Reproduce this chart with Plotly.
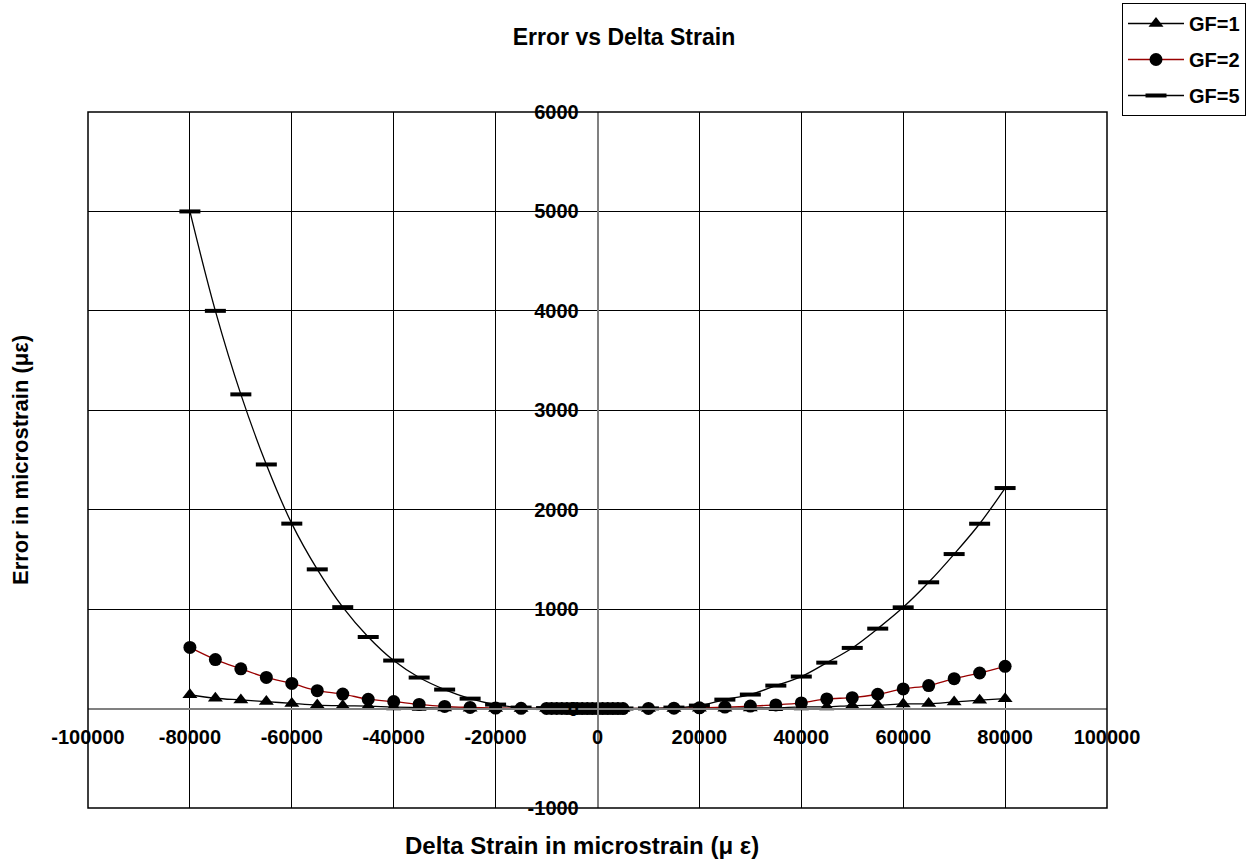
import plotly.graph_objects as go

# ---- data ----
x_vals = [-80000, -75000, -70000, -65000, -60000, -55000, -50000, -45000, -40000,
          -35000, -30000, -25000, -20000, -15000,
          -10000, -9000, -8000, -7000, -6000, -5000, -4000, -3000, -2000, -1000,
          0, 1000, 2000, 3000, 4000, 5000,
          10000, 15000, 20000, 25000, 30000, 35000, 40000, 45000, 50000, 55000,
          60000, 65000, 70000, 75000, 80000]

gf1 = [139, 104, 87, 70, 52, 35, 28, 24, 15, 10, 5, 3, 1, 0.5,
       0.3, 0.2, 0.2, 0.1, 0.1, 0.1, 0, 0, 0, 0,
       0, 0, 0, 0, 0, 0.1,
       0.3, 1, 2, 4, 6, 8, 17, 17, 30, 34, 47, 50, 67, 84, 100]

gf2 = [615, 493, 400, 313, 253, 180, 146, 94, 70, 42, 22, 12, 5, 2,
       1, 1, 0.8, 0.6, 0.4, 0.3, 0.2, 0.1, 0, 0,
       0, 0, 0, 0.1, 0.2, 0.3,
       1, 4, 8, 15, 25, 37, 57, 97, 110, 144, 198, 231, 301, 358, 425]

gf5 = [5000, 4000, 3160, 2455, 1860, 1400, 1020, 720, 483, 312, 191, 100, 40, 10,
       5, 4, 3, 2, 1.5, 1, 0.5, 0.2, 0.1, 0,
       0, 0, 0, 0.1, 0.5, 1,
       2, 10, 30, 90, 141, 231, 322, 462, 610, 804, 1018, 1270, 1554, 1859, 2218]

x_ticks = [-100000, -80000, -60000, -40000, -20000, 0, 20000, 40000, 60000, 80000, 100000]
y_ticks = [-1000, 0, 1000, 2000, 3000, 4000, 5000, 6000]

FONT = "Liberation Sans, Arial, sans-serif"

fig = go.Figure()
fig.add_trace(go.Scatter(
    x=x_vals, y=gf1, name="GF=1", mode="lines+markers", legendgroup="g1",
    line=dict(color="black", width=1.3, shape="spline"),
    marker=dict(symbol="triangle-up", size=13, color="black")))
fig.add_trace(go.Scatter(
    x=x_vals, y=gf2, name="GF=2", mode="lines+markers", legendgroup="g2",
    line=dict(color="#990000", width=1.3, shape="spline"),
    marker=dict(symbol="circle", size=13, color="black")))
fig.add_trace(go.Scatter(
    x=x_vals, y=gf5, name="GF=5", mode="lines+markers", legendgroup="g5",
    line=dict(color="black", width=1.3, shape="spline"),
    marker=dict(symbol="line-ew", size=15, color="black",
                line=dict(width=4, color="black"))))

fig.update_layout(
    width=1258, height=859,
    margin=dict(l=88, r=151, t=112, b=51, autoexpand=False),
    paper_bgcolor="white", plot_bgcolor="white",
    font=dict(family=FONT, size=20, color="black"),
    title=dict(text="<b>Error vs Delta Strain</b>", x=624 / 1258, xanchor="center",
               y=1 - 37 / 859, yanchor="middle", font=dict(size=23)),
    showlegend=True,
    legend=dict(x=(1122 - 88) / 1019, y=(808 - 3) / 696, xanchor="left", yanchor="top",
                bordercolor="black", borderwidth=1, bgcolor="white",
                font=dict(size=20, family=FONT, weight="bold"), tracegroupgap=7,
                itemwidth=56),
    xaxis=dict(range=[-100000, 100000], tickvals=x_ticks,
               ticktext=["<b>%d</b>" % v for v in x_ticks],
               showgrid=True, gridcolor="black", gridwidth=1,
               zeroline=False, showline=True, linecolor="#808080", linewidth=2,
               anchor="free", position=1 / 7, side="bottom",
               ticks="", ticklabelstandoff=10, tickfont=dict(size=20)),
    yaxis=dict(range=[-1000, 6000], tickvals=y_ticks,
               ticktext=["<b>%d</b>" % v for v in y_ticks],
               showgrid=True, gridcolor="black", gridwidth=1,
               zeroline=False, showline=True, linecolor="#808080", linewidth=1.5,
               anchor="free", position=0.5, side="left",
               ticks="", ticklabelstandoff=14, tickfont=dict(size=20), domain=[0, 1]),
)

# plot-area border
fig.add_shape(type="rect", xref="paper", yref="paper", x0=0, y0=0, x1=1, y1=1,
              line=dict(color="black", width=1.5), layer="above")

fig.add_annotation(text="<b>Delta Strain in microstrain (μ ε)</b>", xref="paper", yref="paper",
                   x=(582 - 88) / 1019, y=(808 - 845) / 696, showarrow=False,
                   xanchor="center", yanchor="middle", font=dict(size=24, family=FONT))
fig.add_annotation(text="<b>Error in microstrain (με)</b>", xref="paper", yref="paper",
                   x=(20 - 88) / 1019, y=(808 - 460) / 696, showarrow=False, textangle=-90,
                   xanchor="center", yanchor="middle", font=dict(size=22, family=FONT))

fig.write_html("out.html", config={"displayModeBar": False},
               post_script="document.body.style.margin='0';document.body.style.overflow='hidden';")
